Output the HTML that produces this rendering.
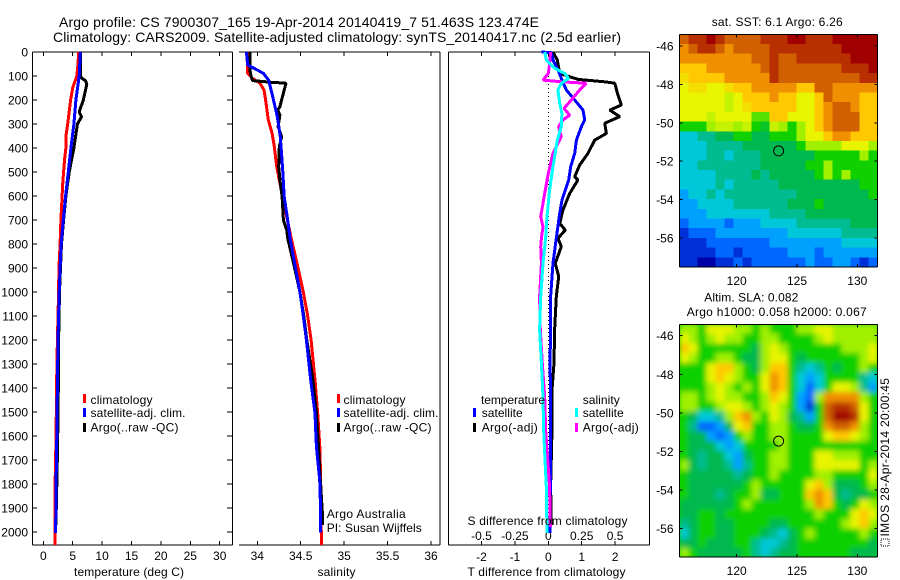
<!DOCTYPE html>
<html lang="en">
<head>
<meta charset="utf-8">
<title>Argo profile 7900307_165</title>
<style>
html,body{margin:0;padding:0;background:#fff;}
svg{display:block;}
text{font-family:"Liberation Sans",sans-serif;font-size:12px;fill:#000;}
.ttl{font-size:14px;}
</style>
</head>
<body>
<svg id="chart" xmlns="http://www.w3.org/2000/svg" width="900" height="580" viewBox="0 0 900 580">
  <defs>
    <clipPath id="clip-sst"><rect x="679.5" y="34.5" width="198" height="232.5"/></clipPath>
    <clipPath id="clip-sla"><rect x="679.5" y="324.5" width="198" height="232.5"/></clipPath>
    <filter id="soften" x="-5%" y="-5%" width="110%" height="110%"><feGaussianBlur stdDeviation="2.6"/></filter>
  </defs>

  <text class="ttl" x="59" y="27" textLength="480">Argo profile: CS 7900307_165 19-Apr-2014 20140419_7 51.463S 123.474E</text>
  <text class="ttl" x="53" y="42" textLength="568">Climatology: CARS2009. Satellite-adjusted climatology: synTS_20140417.nc (2.5d earlier)</text>

  <g id="g-map-sst"></g>
  <g id="g-map-sla"></g>
  <g id="g-panels"></g>

  <text x="74" y="576" textLength="110">temperature (deg C)</text>
  <text x="317.5" y="576" textLength="38">salinity</text>
  <text x="467.5" y="576" textLength="158">T difference from climatology</text>
  <text x="467.5" y="525" textLength="160">S difference from climatology</text>

  <g>
    <rect x="83" y="394" width="3" height="9" fill="#ff0000"/>
    <rect x="83" y="408" width="3" height="9" fill="#0000ff"/>
    <rect x="83" y="423" width="3" height="9" fill="#000"/>
    <text x="90.5" y="404" textLength="62">climatology</text>
    <text x="90.5" y="417" textLength="95">satellite-adj. clim.</text>
    <text x="90.5" y="431.5" textLength="88">Argo(..raw -QC)</text>
  </g>
  <g>
    <rect x="337" y="394" width="3" height="9" fill="#ff0000"/>
    <rect x="337" y="408" width="3" height="9" fill="#0000ff"/>
    <rect x="337" y="423" width="3" height="9" fill="#000"/>
    <text x="343.5" y="404" textLength="62">climatology</text>
    <text x="343.5" y="417" textLength="95">satellite-adj. clim.</text>
    <text x="343.5" y="431.5" textLength="88">Argo(..raw -QC)</text>
  </g>
  <text x="326.7" y="518" textLength="79">Argo Australia</text>
  <text x="326.7" y="532" textLength="95">PI: Susan Wijffels</text>

  <g>
    <text x="481" y="404" textLength="64">temperature</text>
    <text x="582.7" y="404" textLength="37">salinity</text>
    <rect x="473" y="408" width="3" height="9" fill="#0000ff"/>
    <rect x="473" y="423" width="3" height="9" fill="#000"/>
    <rect x="575" y="408" width="3" height="9" fill="#00ffff"/>
    <rect x="575" y="423" width="3" height="9" fill="#ff00ff"/>
    <text x="481.7" y="417" textLength="41">satellite</text>
    <text x="481.7" y="431.5" textLength="56">Argo(-adj)</text>
    <text x="582.7" y="417" textLength="41">satellite</text>
    <text x="582.7" y="431.5" textLength="56">Argo(-adj)</text>
  </g>

  <text x="711.7" y="26" textLength="131">sat. SST: 6.1 Argo: 6.26</text>
  <text x="704.3" y="301.5" textLength="94">Altim. SLA: 0.082</text>
  <text x="686.7" y="316" textLength="180">Argo h1000: 0.058 h2000: 0.067</text>

  <rect x="881" y="539" width="8" height="7" fill="none" stroke="#000" stroke-width="1" stroke-dasharray="1 1"/>
  <text transform="translate(889 536.5) rotate(-90)" x="0" y="0" textLength="158.5">IMOS 28-Apr-2014 20:00:45</text>
</svg>

<script>
// ---------- axis tick values ----------
const depthTicks = [0,100,200,300,400,500,600,700,800,900,1000,1100,1200,1300,1400,1500,1600,1700,1800,1900,2000];
const tempTicks = [0,5,10,15,20,25,30];
const salTicks = [34,34.5,35,35.5,36];
const salTickLabels = ['34','34.5','35','35.5','36'];
const dtTicks = [-2,-1,0,1,2];
const dtTickLabels = ['-2','-1','0','1','2'];
const dsTicks = [-0.5,-0.25,0,0.25,0.5];
const dsTickLabels = ['-0.5','-0.25','0','0.25','0.5'];
const latTicks = [-46,-48,-50,-52,-54,-56];
const lonTicks = [120,125,130];

// ---------- temperature panel ----------
const tClimDepth = [0,50,100,150,200,300,350,400,450,500,550,600,700,800,900,1000,1200,1400,1550,1700,1850,2054];
const tClim = [6.0,5.9,5.7,5.0,4.65,4.15,3.85,3.85,3.6,3.45,3.3,3.2,3.0,2.85,2.65,2.6,2.4,2.25,2.2,2.1,1.95,2.0];
const tSatDepth = [0,100,200,300,400,500,600,700,800,900,1000,1200,1400,1500,1600,1700,1800,1900,2005];
const tSat = [6.3,6.1,5.55,5.2,4.7,4.25,3.8,3.4,3.05,2.85,2.7,2.5,2.4,2.33,2.3,2.25,2.16,2.16,2.05];
const tArgoDepth = [0,100,110,120,135,200,250,270,300,400,500,600,700,800,1000,1200,1400,1530,1750,1970];
const tArgo = [6.3,6.3,6.6,7.2,7.4,6.8,6.1,6.5,5.8,5.2,4.4,3.85,3.45,3.1,2.75,2.6,2.55,2.5,2.35,2.15];

// ---------- salinity panel ----------
const sClimDepth = [0,89,110,130,158,200,283,339,394,478,533,603,700,776,900,1000,1100,1200,1367,1505,1644,1783,1922,2054];
const sClim = [33.88,33.89,33.947,34.03,34.077,34.096,34.127,34.17,34.196,34.223,34.253,34.29,34.346,34.39,34.47,34.53,34.58,34.62,34.664,34.695,34.72,34.73,34.735,34.738];
const sSatDepth = [0,54,75,89,117,186,269,353,478,603,700,776,900,1000,1100,1200,1367,1505,1644,1783,1922,2002];
const sSat = [33.875,33.89,34.0,34.07,34.13,34.177,34.23,34.265,34.29,34.31,34.35,34.376,34.44,34.49,34.53,34.565,34.615,34.664,34.68,34.718,34.73,34.73];
const sArgoDepth = [0,75,103,119,126,130,200,228,242,263,311,353,394,478,533,603,700,742,776,900,1000,1100,1200,1367,1505,1644,1783,1922,1971];
const sArgo = [33.915,33.915,33.93,33.945,34.15,34.33,34.28,34.26,34.235,34.26,34.24,34.28,34.253,34.246,34.26,34.285,34.3,34.338,34.35,34.43,34.49,34.535,34.57,34.64,34.68,34.705,34.725,34.75,34.75];

// ---------- difference panel ----------
const dtSatDepth = [0,3,33,75,117,158,200,242,283,311,367,422,478,533,617,672,776,880,1019,1158,1297,1436,1575,1811,2005];
const dtSat = [-0.2,0.09,0.14,0.29,0.41,0.54,0.79,1.04,1.09,0.99,0.84,0.79,0.67,0.61,0.41,0.34,0.24,0.14,0.07,0.07,0.05,0.07,0.07,0.06,0.05];
const dtArgoDepth = [0,33,89,114,124,130,172,221,242,269,297,339,367,422,471,519,533,589,658,714,742,776,811,880,936,1019,1158,1297,1408,1575,1811,1970];
const dtArgo = [0.14,0.27,0.34,0.89,1.69,1.99,2.07,2.19,1.84,2.14,1.69,1.74,1.39,1.19,0.94,0.79,0.89,0.64,0.44,0.34,0.51,0.29,0.39,0.21,0.31,0.24,0.19,0.17,0.11,0.11,0.07,0.09];
const dsArgoDepth = [0,50,89,117,124,130,158,200,235,263,283,311,353,422,506,589,686,728,776,811,880,1019,1158,1297,1436,1575,1811,1980];
const dsArgo = [0.017,0.01,0,-0.04,0.097,0.284,0.235,0.172,0.117,0.16,0.11,0.077,0.097,0.035,0,-0.027,-0.057,-0.04,-0.052,-0.057,-0.052,-0.065,-0.06,-0.045,-0.027,-0.02,0.01,0.015];
const dsSatDepth = [0,33,68,89,110,131,158,214,256,311,367,478,575,686,776,880,1019,1158,1297,1436,1575,1672,1811,2005];
const dsSat = [-0.027,-0.015,0.047,0.122,0.152,0.097,0.072,0.085,0.102,0.097,0.067,0.035,0.01,-0.01,-0.02,-0.04,-0.057,-0.065,-0.052,-0.04,-0.035,-0.027,-0.015,-0.01];

// ---------- map grids: colour level per cell, north to south ----------
const sstGrid = [
[12,13,13,14,13,12,12,12,12,13,13,13,14,14,13,13,13,14,14,14,14,14],
[11,12,13,13,12,11,12,12,12,12,13,13,13,13,13,13,13,13,14,14,14,14],
[11,11,11,11,11,11,11,11,12,12,13,12,12,13,13,13,13,13,13,14,14,14],
[10,10,10,11,11,11,11,11,11,12,13,12,12,12,12,12,12,12,13,13,13,14],
[9.5,10,10,10,10,11,11,11,11,11,13,12,12,12,12,12,12,12,12,12,13,13],
[9,9.5,9.5,9,9,9.5,10,10,11,11,11,11,11,10,10,12,12,11,11,11,11,11],
[9,9,9,9,9,8.5,9,10,10,10,11,10,10,9,9,10,12,11,11,11,10,10],
[9,9,9,9,9,8.5,9,9.5,10,10,10,10,10,9,9,10,11,12,12,11,10,10],
[9,9,9,8.5,9,9,9,9,7.5,7.5,10,10,9,9,9,10,11,12,12,12,10,10],
[7,7,7,8,8.5,8.5,8,8.5,7,6.5,8.5,8,7,8,9,10,11,12,12,12,10,10],
[4,4,5,5,6,6,7,7,6,6,7,7,7,8,9,9,10,11,11,10,10,10],
[4,4,4,5,5,5,5,6,6,6,6,6,6,7,8,8,8,8,9,9,9,8],
[4,4,4,5,5,4,5,5,5,6,6,6,6,6,6,7,7,7,7,7,8,7],
[4,4,5,5,5,5,5,5,5,6,6,6,6,6,7,7,8,7,7,7,7,7],
[4,4,4,4,5,5,5,5,6,5,6,6,6,6,6,7,8,7,8,7,7,7],
[4,4,4,4,5,4,5,5,5,5,5,6,6,6,6,6,6,6,6,6,7,7],
[3,4,4,5,4,5,5,5,5,5,5,5,5,6,6,6,6,6,6,6,6,7],
[3,3,4,4,4,4,5,5,5,5,5,5,6,6,6,7,6,6,6,6,6,6],
[3,3,3,4,4,4,4,4,4,4,5,5,5,5,6,6,6,6,6,6,6,6],
[2,3,3,3,3,2,3,3,3,4,4,4,4,5,5,5,5,5,5,6,6,6],
[1,2,2,2,3,3,3,3,3,3,3,3,4,4,4,4,4,4,5,5,5,5],
[1,1,1,2,2,2,2,2,2,2,3,3,3,3,3,3,3,3,4,4,4,4],
[1,1,1,1,2,2,1,2,2,2,2,2,3,3,3,2,3,3,3,3,3,3],
[1,1,0,0,1,1,2,1,2,2,2,2,2,2,3,2,2,3,3,2,1,2]
];
const slaGrid = [
[8,8,7,9,9,9,8,8,7,8,7,7,7,8,8,9,9,8,8,8,8,8],
[9,8,7,8,9,8,8,7,7,8,8,7,7,7,7,8,9,8,8,8,8,8],
[10,9,7,7,7,7,7,7,6,8,9,8,7,7,7,7,7,7,8,8,8,9],
[9,8,7,7,8,8,7,6,6,8,9,9,7,6,7,7,7,7,7,7,8,9],
[7,7,7,9,10,10,8,7,6,8,10,10,7,5,4,5,7,6,7,7,8,7],
[7,7,7,9,10,9,8,7,7,9,11,10,7,4,3,4,7,7,7,7,5,4],
[7,7,7,8,9,8,7,8,7,9,11,10,7,4,2,4,7,9,9,8,5,3],
[8,8,7,8,9,8,8,7,7,8,10,9,7,3,2,8,11,11,11,11,8,7],
[8,8,7,7,8,9,9,8,7,8,9,8,7,3,1,7,12,13,13,12,9,7],
[7,6,4,4,5,8,10,11,8,7,9,8,6,5,3,7,12,14,14,13,9,7],
[7,5,2,2,3,6,9,10,7,7,8,8,7,6,6,7,11,12,12,11,8,7],
[7,6,6,3,2,3,7,8,7,7,8,8,7,7,7,7,9,10,10,9,8,7],
[7,6,6,6,4,3,4,7,7,7,7,8,7,7,7,7,7,7,7,7,7,7],
[7,6,5,6,6,4,3,6,7,7,8,8,7,7,7,9,9,8,8,8,7,7],
[8,6,5,6,6,5,3,5,7,7,8,8,7,7,7,9,9,9,9,9,7,8],
[7,6,6,6,6,6,5,6,7,7,8,7,7,7,7,8,8,7,7,7,7,9],
[7,6,6,6,6,6,6,7,8,7,7,7,7,7,9,10,8,6,6,6,7,8],
[7,6,6,6,5,6,7,7,8,6,6,7,7,7,10,11,10,6,5,6,6,7],
[6,6,6,6,6,6,7,8,7,7,7,7,7,7,8,11,10,7,6,7,9,8],
[6,6,7,7,6,7,7,7,7,7,7,7,7,7,7,8,7,7,7,9,10,9],
[5,6,7,7,6,6,7,7,7,7,6,6,7,7,7,7,7,7,8,9,10,8],
[4,6,7,7,6,6,7,7,7,6,5,4,6,7,8,7,7,7,7,7,8,7],
[6,6,7,6,6,6,7,7,5,4,4,5,6,7,7,7,7,7,7,7,7,6],
[8,7,6,6,6,6,6,7,5,4,5,6,6,7,7,7,7,7,7,6,6,6]
];
const floatLon = [123.474];
const floatLat = [-51.463];

// ---------- axis functions ----------
const depthY = d => 52 + 0.24 * d;
const tempX = t => 43.3 + 5.88 * t;
const salX = s => 257.3 + 86.85 * (s - 34);
const dtX = t => 548.3 + 33.4 * t;
const dsX = s => 548.3 + 133.6 * s;
const lonX = lon => 736.7 + 12.06 * (lon - 120);
const sstLatY = lat => 46 - 19.2 * (lat + 46);
const slaLatY = lat => 335.7 - 19.3 * (lat + 46);

const SVGNS = 'http://www.w3.org/2000/svg';
const panels = document.getElementById('g-panels');

function makeEl(parent, tag, attrs) {
  const el = document.createElementNS(SVGNS, tag);
  for (const k in attrs) el.setAttribute(k, attrs[k]);
  parent.appendChild(el);
  return el;
}
function segment(parent, x1, y1, x2, y2, name) {
  const el = makeEl(parent, 'line', {x1: x1, y1: y1, x2: x2, y2: y2, stroke: '#000', 'stroke-width': 1, 'shape-rendering': 'crispEdges'});
  
  
  return el;
}
function label(parent, str, x, y, anchor, name) {
  const el = makeEl(parent, 'text', {x: x, y: y, 'text-anchor': anchor});
  el.textContent = str;
  
  
  return el;
}
function profile(parent, depths, values, xFn, color, width, name) {
  const pts = depths.map((d, i) => xFn(values[i]).toFixed(1) + ',' + depthY(d).toFixed(1)).join(' ');
  const el = makeEl(parent, 'polyline', {points: pts, fill: 'none', stroke: color, 'stroke-width': width, 'shape-rendering': 'crispEdges', 'stroke-linejoin': 'bevel'});
  
  
  return el;
}

const TOP = 52, BOTTOM = 545;

// temperature panel frame and ticks
segment(panels, 32.5, TOP, 232.5, TOP, 'temperature-top-axis');
segment(panels, 32.5, BOTTOM, 232.5, BOTTOM, 'temperature-x-axis');
segment(panels, 32.5, TOP, 32.5, BOTTOM, 'depth-axis');
segment(panels, 232.5, TOP, 232.5, BOTTOM, 'temperature-right-axis');
depthTicks.forEach(d => {
  segment(panels, 32.5, depthY(d), 37, depthY(d), 'depth-tick');
  segment(panels, 227, depthY(d), 232.5, depthY(d), 'depth-tick-right');
  label(panels, String(d), 28, depthY(d) + 4.5, 'end', 'depth-tick-label');
});
tempTicks.forEach(t => {
  segment(panels, tempX(t), TOP, tempX(t), TOP + 4, 'temperature-tick-top');
  segment(panels, tempX(t), BOTTOM - 4, tempX(t), BOTTOM, 'temperature-tick');
  label(panels, String(t), tempX(t), 560, 'middle', 'temperature-tick-label');
});

// salinity panel frame and ticks
segment(panels, 239, TOP, 440, TOP, 'salinity-top-axis');
segment(panels, 239, BOTTOM, 440, BOTTOM, 'salinity-x-axis');
segment(panels, 440, TOP, 440, BOTTOM, 'salinity-right-axis');
salTicks.forEach((s, i) => {
  segment(panels, salX(s), TOP, salX(s), TOP + 4, 'salinity-tick-top');
  segment(panels, salX(s), BOTTOM - 4, salX(s), BOTTOM, 'salinity-tick');
  label(panels, salTickLabels[i], salX(s), 560, 'middle', 'salinity-tick-label');
});

// difference panel frame and ticks
segment(panels, 448.5, TOP, 649.5, TOP, 'difference-top-axis');
segment(panels, 448.5, BOTTOM, 649.5, BOTTOM, 'difference-x-axis');
segment(panels, 448.5, TOP, 448.5, BOTTOM, 'difference-left-axis');
segment(panels, 649.5, TOP, 649.5, BOTTOM, 'difference-right-axis');
dtTicks.forEach((t, i) => {
  segment(panels, dtX(t), TOP, dtX(t), TOP + 4, 'dt-tick-top');
  segment(panels, dtX(t), BOTTOM - 4, dtX(t), BOTTOM, 'dt-tick');
  label(panels, dtTickLabels[i], dtX(t), 561, 'middle', 'dt-tick-label');
});
dsTicks.forEach((s, i) => {
  label(panels, dsTickLabels[i], dsX(s), 540, 'middle', 'ds-tick-label');
});
const zeroLine = makeEl(panels, 'line', {x1: dtX(0), y1: depthY(0), x2: dtX(0), y2: depthY(2000), stroke: '#000', 'stroke-width': 1, 'stroke-dasharray': '1 3', 'shape-rendering': 'crispEdges'});



// series
profile(panels, tClimDepth, tClim, tempX, '#ff0000', 3, 'temperature-climatology-line');
profile(panels, tArgoDepth, tArgo, tempX, '#000000', 3, 'temperature-argo-line');
profile(panels, tSatDepth, tSat, tempX, '#0000ff', 3, 'temperature-satellite-line');
profile(panels, sClimDepth, sClim, salX, '#ff0000', 3, 'salinity-climatology-line');
profile(panels, sArgoDepth, sArgo, salX, '#000000', 3, 'salinity-argo-line');
profile(panels, sSatDepth, sSat, salX, '#0000ff', 3, 'salinity-satellite-line');
profile(panels, dtArgoDepth, dtArgo, dtX, '#000000', 3, 'dt-argo-line');
profile(panels, dtSatDepth, dtSat, dtX, '#0000ff', 3, 'dt-satellite-line');
profile(panels, dsArgoDepth, dsArgo, dsX, '#ff00ff', 3, 'ds-argo-line');
profile(panels, dsSatDepth, dsSat, dsX, '#00ffff', 3, 'ds-satellite-line');

// ---------- maps ----------
const ramp = ['#0000a8','#0030d8','#0068ff','#00a0ff','#00c8d8','#00bc90','#00b850','#10d000','#a0f000','#e8f400','#ffc800','#f09000','#d06000','#b83000','#a00000'];
function rgb(h) { return [1,3,5].map(i => parseInt(h.substr(i,2),16)); }
function levelColor(v) {
  const c = Math.max(0, Math.min(ramp.length - 1, v));
  const i = Math.min(ramp.length - 2, Math.floor(c));
  const f = c - i;
  const a = rgb(ramp[i]), b = rgb(ramp[i + 1]);
  return 'rgb(' + a.map((q, k) => Math.round(q + (b[k] - q) * f)).join(',') + ')';
}
const LON0 = 115.24, DLON = 0.748, LAT0 = -45.39, DLAT = 0.505;

function drawMap(hostId, grid, latY, clipId, soft, top, bottom, lonLabelY, mapName) {
  const host = document.getElementById(hostId);
  const clip = makeEl(host, 'g', {'clip-path': 'url(#' + clipId + ')'});
  if (soft) {
    const under = makeEl(clip, 'rect', {x: 679, y: top, width: 199, height: bottom - top, fill: levelColor(7)});
    
    
  }
  const cells = makeEl(clip, 'g', soft ? {filter: 'url(#soften)'} : {});
  grid.forEach((row, r) => {
    row.forEach((v, c) => {
      const x0 = lonX(LON0 + DLON * c), x1 = lonX(LON0 + DLON * (c + 1));
      const y0 = latY(LAT0 - DLAT * r), y1 = latY(LAT0 - DLAT * (r + 1));
      const cell = makeEl(cells, 'rect', {x: x0.toFixed(2), y: y0.toFixed(2), width: (x1 - x0 + 0.6).toFixed(2), height: (y1 - y0 + 0.6).toFixed(2), fill: levelColor(v), 'shape-rendering': 'crispEdges'});
      
      
    });
  });
  const L = 679.5, R = 877.5;
  segment(host, L, top, R, top, mapName + '-top-edge');
  segment(host, L, bottom, R, bottom, mapName + '-bottom-edge');
  segment(host, L, top, L, bottom, mapName + '-left-edge');
  segment(host, R, top, R, bottom, mapName + '-right-edge');
  latTicks.forEach(lat => {
    const y = latY(lat);
    segment(host, L, y, L + 3, y, mapName + '-lat-tick');
    segment(host, R - 3, y, R, y, mapName + '-lat-tick-right');
    label(host, String(lat), 673.5, y + 4.5, 'end', mapName + '-lat-label');
  });
  lonTicks.forEach(lon => {
    const x = lonX(lon);
    segment(host, x, top, x, top + 3, mapName + '-lon-tick-top');
    segment(host, x, bottom - 3, x, bottom, mapName + '-lon-tick');
    label(host, String(lon), x, lonLabelY, 'middle', mapName + '-lon-label');
  });
  const marker = makeEl(host, 'circle', {cx: lonX(floatLon[0]), cy: latY(floatLat[0]), r: 5, fill: 'none', stroke: '#000', 'stroke-width': 1});
  
  
}
drawMap('g-map-sst', sstGrid, sstLatY, 'clip-sst', false, 34.5, 267, 285, 'sst-map');
drawMap('g-map-sla', slaGrid, slaLatY, 'clip-sla', true, 324.5, 557, 575, 'sla-map');
</script>
</body>
</html>
